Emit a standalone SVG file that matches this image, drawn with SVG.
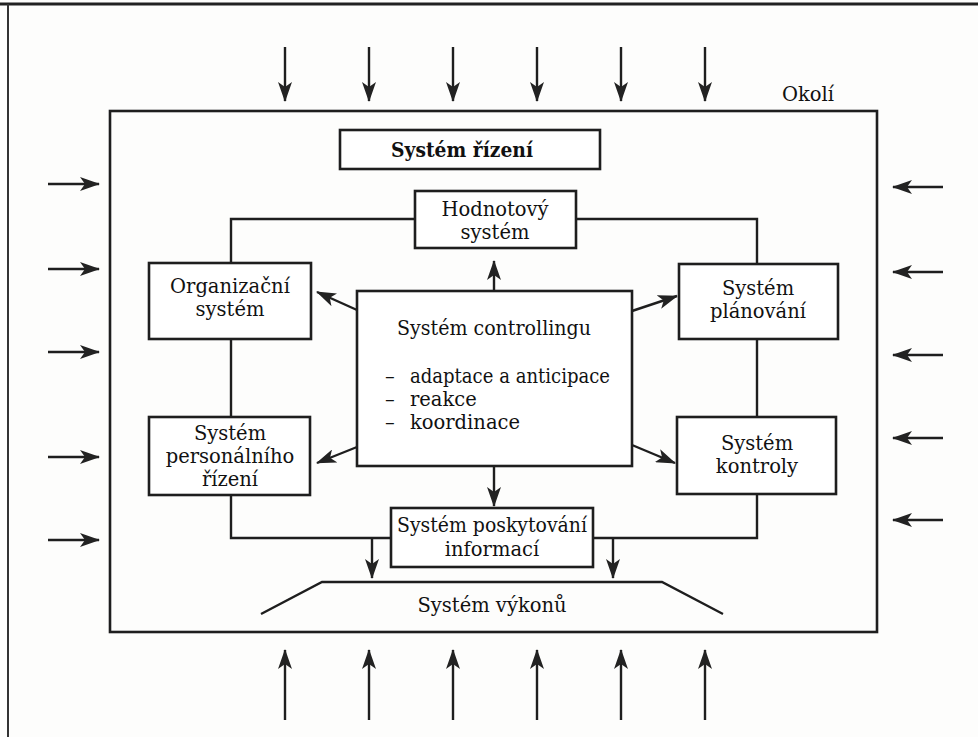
<svg xmlns="http://www.w3.org/2000/svg" width="978" height="737" viewBox="0 0 978 737">
<defs>
<marker id="ah" markerUnits="userSpaceOnUse" markerWidth="20" markerHeight="14" refX="19" refY="7" orient="auto">
<path d="M0,0 L20,7 L0,14 L5,7 Z" fill="#222"/>
</marker>
<style>
.box{fill:#fff;stroke:#1e1e1e;stroke-width:2.6}
.ln{fill:none;stroke:#1e1e1e;stroke-width:2.4}
.ar{fill:none;stroke:#1e1e1e;stroke-width:2.4;marker-end:url(#ah)}
text{font-family:"DejaVu Serif","Liberation Serif",serif;font-size:19.5px;fill:#111;text-anchor:middle}
.b{font-weight:bold;font-size:21px}
.l{text-anchor:start}
</style>
</defs>
<rect x="0" y="0" width="978" height="737" fill="#fdfdfc"/>
<g id="page-frame">
<line x1="0" y1="4" x2="978" y2="4" stroke="#222" stroke-width="3"/>
<line x1="8" y1="4" x2="8" y2="737" stroke="#333" stroke-width="2"/>
</g>
<g id="okoli">
<rect x="110" y="111" width="767" height="521" fill="none" stroke="#1e1e1e" stroke-width="2.6"/>
<text x="808" y="101">Okolí</text>
</g>
<g id="connectors">
<line class="ar" x1="285" y1="47" x2="285" y2="101"/>
<line class="ar" x1="369" y1="47" x2="369" y2="101"/>
<line class="ar" x1="453" y1="47" x2="453" y2="101"/>
<line class="ar" x1="537" y1="47" x2="537" y2="101"/>
<line class="ar" x1="621" y1="47" x2="621" y2="101"/>
<line class="ar" x1="705" y1="47" x2="705" y2="101"/>
<line class="ar" x1="285" y1="720" x2="285" y2="650"/>
<line class="ar" x1="369" y1="720" x2="369" y2="650"/>
<line class="ar" x1="453" y1="720" x2="453" y2="650"/>
<line class="ar" x1="537" y1="720" x2="537" y2="650"/>
<line class="ar" x1="621" y1="720" x2="621" y2="650"/>
<line class="ar" x1="705" y1="720" x2="705" y2="650"/>
<line class="ar" x1="48" y1="184" x2="99" y2="184"/>
<line class="ar" x1="48" y1="269" x2="99" y2="269"/>
<line class="ar" x1="48" y1="352" x2="99" y2="352"/>
<line class="ar" x1="48" y1="457" x2="99" y2="457"/>
<line class="ar" x1="48" y1="540" x2="99" y2="540"/>
<line class="ar" x1="943" y1="187" x2="893" y2="187"/>
<line class="ar" x1="943" y1="272" x2="893" y2="272"/>
<line class="ar" x1="943" y1="355" x2="893" y2="355"/>
<line class="ar" x1="943" y1="438" x2="893" y2="438"/>
<line class="ar" x1="943" y1="520" x2="893" y2="520"/>
<polyline class="ln" points="415,219 231,219 231,263"/>
<polyline class="ln" points="576,219 757,219 757,264"/>
<line class="ln" x1="231" y1="339" x2="231" y2="417"/>
<line class="ln" x1="757" y1="339" x2="757" y2="417"/>
<polyline class="ln" points="231,495 231,538 391,538"/>
<polyline class="ln" points="757,494 757,538 593,538"/>
<line class="ar" x1="372" y1="538" x2="372" y2="578"/>
<line class="ar" x1="613" y1="538" x2="613" y2="578"/>
<line class="ar" x1="494" y1="291" x2="494" y2="261"/>
<line class="ar" x1="494" y1="466" x2="494" y2="506"/>
<line class="ar" x1="357" y1="310" x2="317" y2="292"/>
<line class="ar" x1="357" y1="447" x2="317" y2="463"/>
<line class="ar" x1="632" y1="311" x2="677" y2="296"/>
<line class="ar" x1="632" y1="445" x2="675" y2="463"/>
</g>
<g id="system-rizeni">
<rect class="box" x="340" y="130" width="260" height="39"/>
<text class="b" x="462" y="157" textLength="142" lengthAdjust="spacingAndGlyphs">Systém řízení</text>
</g>
<g id="hodnotovy-system">
<rect class="box" x="415" y="191" width="161" height="57"/>
<text x="495" y="216">Hodnotový</text>
<text x="495" y="239">systém</text>
</g>
<g id="organizacni-system">
<rect class="box" x="149" y="263" width="162" height="76"/>
<text x="230" y="293">Organizační</text>
<text x="230" y="316">systém</text>
</g>
<g id="personalni-rizeni">
<rect class="box" x="149" y="417" width="161" height="78"/>
<text x="230" y="440">Systém</text>
<text x="230" y="463">personálního</text>
<text x="230" y="486">řízení</text>
</g>
<g id="planovani">
<rect class="box" x="679" y="264" width="159" height="75"/>
<text x="758" y="295">Systém</text>
<text x="758" y="318">plánování</text>
</g>
<g id="kontroly">
<rect class="box" x="677" y="417" width="159" height="77"/>
<text x="757" y="450">Systém</text>
<text x="757" y="473">kontroly</text>
</g>
<g id="controlling">
<rect class="box" x="357" y="291" width="275" height="175"/>
<text x="494" y="335" textLength="194" lengthAdjust="spacingAndGlyphs">Systém controllingu</text>
<text class="l" x="385" y="383">–</text>
<text class="l" x="410" y="383" textLength="200" lengthAdjust="spacingAndGlyphs">adaptace a anticipace</text>
<text class="l" x="385" y="406">–</text>
<text class="l" x="410" y="406">reakce</text>
<text class="l" x="385" y="429">–</text>
<text class="l" x="410" y="429">koordinace</text>
</g>
<g id="poskytovani-informaci">
<rect class="box" x="391" y="508" width="202" height="59"/>
<text x="492" y="532" textLength="190" lengthAdjust="spacingAndGlyphs">Systém poskytování</text>
<text x="492" y="556">informací</text>
</g>
<g id="vykonu">
<polyline class="ln" points="261,614 322,582 662,582 723,614"/>
<text x="492" y="612">Systém výkonů</text>
</g>
</svg>
